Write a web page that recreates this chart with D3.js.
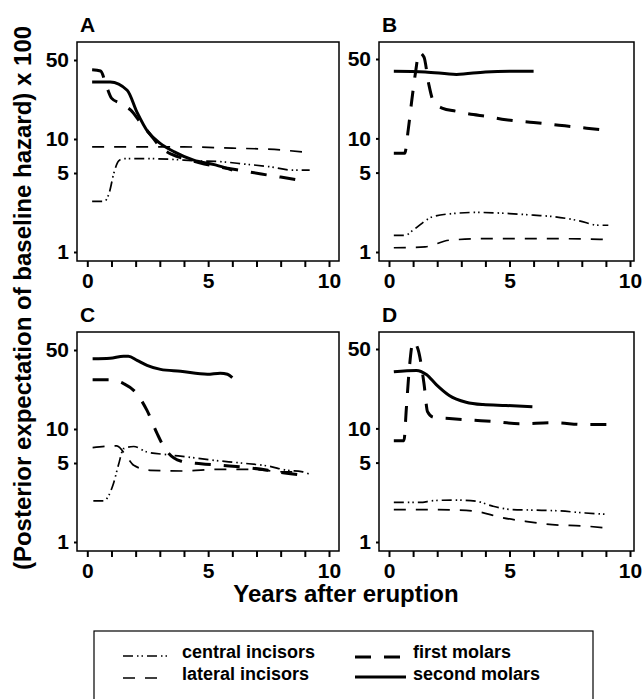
<!DOCTYPE html>
<html>
<head>
	<meta charset="UTF-8" />
	<title>Posterior hazard by tooth type</title>
	<script src="https://cdn.jsdelivr.net/npm/d3@7"></script>
	<style>
		body { margin: 0; background: #fff; }
		svg text { font-family: "Liberation Sans", Arial, Helvetica, sans-serif; font-weight: bold; fill: #000; }
	</style>
</head>
<body>
<div id="chart"></div>
<script type="text/javascript">
	// axis values
	var xTicks = [0, 1, 2, 3, 4, 5, 6, 7, 8, 9, 10];
	var xLabels = [0, 5, 10];
	var yTicks = [1, 5, 10, 50];

	// series: [years after eruption, hazard x 100]
	var A_central = [[0.2,2.8],[0.7,2.8],[0.9,3.3],[1.1,5.0],[1.3,6.4],[1.5,6.7],[2.5,6.7],[3.5,6.6],[4.5,6.4],[5.5,6.3],[6.5,6.0],[7.5,5.7],[8.5,5.3],[9.2,5.3]];
	var A_lateral = [[0.2,8.5],[2,8.5],[4,8.5],[6,8.3],[8,8.0],[9.1,7.6]];
	var A_first = [[0.2,41],[0.55,40],[0.8,29],[1.0,23],[1.4,20.5],[1.8,18],[2.2,14],[2.6,11],[3.0,8.6],[3.5,7.3],[4.0,6.7],[4.6,6.2],[5.2,5.8],[5.8,5.5],[6.5,5.2],[7.2,4.9],[8.0,4.6],[8.8,4.3]];
	var A_second = [[0.2,32],[0.95,32],[1.65,27],[2.07,17],[2.5,11.6],[3.0,9.2],[3.6,7.7],[4.4,6.5],[5.3,5.9],[6.0,5.3]];

	var B_central = [[0.2,1.4],[0.66,1.4],[1.0,1.56],[1.8,2.04],[2.65,2.18],[3.6,2.23],[5.0,2.18],[6.0,2.11],[6.9,2.04],[7.9,1.88],[8.7,1.72],[9.1,1.72]];
	var B_lateral = [[0.2,1.09],[1.5,1.11],[2.5,1.27],[4.0,1.31],[6.8,1.31],[9.0,1.29]];
	var B_first = [[0.2,7.4],[0.65,7.4],[0.8,12],[0.95,22],[1.1,38],[1.25,57],[1.45,52],[1.65,30],[1.85,21],[2.2,18.5],[2.8,17.3],[3.5,16.2],[4.0,15.7],[4.85,14.6],[6.0,13.8],[7.3,12.9],[8.2,12.3],[9.1,11.8]];
	var B_second = [[0.2,39],[1.5,38.5],[2.8,36.6],[4.0,38.5],[5.0,39],[6.0,39]];

	var C_central = [[0.25,2.31],[0.67,2.31],[1.08,3.28],[1.3,4.9],[1.5,6.7],[1.92,7.0],[2.47,6.25],[3.3,5.93],[4.14,5.65],[5.25,5.28],[6.36,5.0],[7.47,4.7],[8.3,4.3],[8.86,4.2],[9.2,3.97]];
	var C_lateral = [[0.22,6.84],[1.22,7.1],[1.64,5.65],[1.92,4.77],[2.6,4.31],[4.0,4.25],[5.4,4.4],[6.8,4.4],[8.2,4.17],[8.9,4.2]];
	var C_first = [[0.22,27.3],[0.88,27.3],[1.5,25.2],[1.99,21.2],[2.47,14.6],[2.89,9.1],[3.17,6.93],[3.86,5.21],[4.7,4.93],[5.5,4.77],[6.64,4.55],[7.47,4.31],[8.17,4.08],[9.2,3.84]];
	var C_second = [[0.22,41.9],[0.94,42.3],[1.5,44],[1.7,44],[2.06,40.5],[2.47,36.6],[3.03,33.7],[3.86,32.4],[4.97,30.5],[5.5,31.2],[5.8,30.5],[6.0,28.5]];

	var D_central = [[0.2,2.23],[1.28,2.23],[1.83,2.31],[2.65,2.34],[3.6,2.29],[4.3,2.07],[5.1,1.93],[5.95,1.91],[7.05,1.88],[8.15,1.8],[9.1,1.75]];
	var D_lateral = [[0.2,1.93],[1.55,1.93],[2.93,1.91],[3.75,1.84],[4.57,1.66],[5.67,1.52],[6.77,1.42],[8.15,1.38],[8.97,1.33]];
	var D_first = [[0.2,7.8],[0.62,7.8],[0.72,15],[0.85,35],[1.0,58],[1.2,50],[1.45,25],[1.6,14],[1.85,12.5],[2.5,12.2],[3.5,11.8],[4.3,11.5],[5.4,11.0],[6.8,11.2],[8.15,10.8],[9.1,10.8]];
	var D_second = [[0.2,31.5],[1.14,32.4],[1.55,29.8],[1.96,24.3],[2.5,19.5],[3.2,17],[3.9,16.2],[4.85,15.9],[5.95,15.5]];

	var seriesKeys = ["central", "lateral", "first", "second"];
	var seriesNames = ["central incisors", "lateral incisors", "first molars", "second molars"];

	var styles = {
		central: { w: 1.7, dash: "10,4,1.5,3,1.5,4" },
		lateral: { w: 1.7, dash: "12,10" },
		first:   { w: 3,   dash: "16,13" },
		second:  { w: 3,   dash: null }
	};

	var panels = [
		{ id: "A", data: { central: A_central, lateral: A_lateral, first: A_first, second: A_second }, box: [77, 339, 42, 261], xr: [87.3, 329], yr: [252, 60] },
		{ id: "B", data: { central: B_central, lateral: B_lateral, first: B_first, second: B_second }, box: [379, 634, 42, 261], xr: [389, 630], yr: [252, 59] },
		{ id: "C", data: { central: C_central, lateral: C_lateral, first: C_first, second: C_second }, box: [77, 339, 332, 551], xr: [87.3, 329], yr: [542, 350] },
		{ id: "D", data: { central: D_central, lateral: D_lateral, first: D_first, second: D_second }, box: [379, 634, 332, 551], xr: [389, 630], yr: [542, 349] }
	];

	var svg = d3.select("#chart").append("svg")
		.attr("width", 643)
		.attr("height", 699);

	panels.forEach(function(p) {
		var x = d3.scaleLinear().domain([0, 10]).range(p.xr);
		var y = d3.scaleLog().domain([1, 50]).range(p.yr);
		var g = svg.append("g");

		g.append("rect")
			.attr("x", p.box[0]).attr("y", p.box[2])
			.attr("width", p.box[1] - p.box[0]).attr("height", p.box[3] - p.box[2])
			.attr("fill", "none").attr("stroke", "#000").attr("stroke-width", 1.5);

		// x axis
		var xa = g.append("g")
			.attr("transform", "translate(0," + p.box[3] + ")")
			.call(d3.axisBottom(x).tickValues(xTicks).tickSize(6).tickPadding(4)
				.tickFormat(function(d) { return xLabels.indexOf(d) >= 0 ? d : ""; }));
		xa.select(".domain").remove();
		xa.selectAll("line").attr("stroke-width", 2);
		xa.selectAll("text").attr("font-size", 21).attr("dy", "0.8em");

		// y axis
		var ya = g.append("g")
			.attr("transform", "translate(" + p.box[0] + ",0)")
			.call(d3.axisLeft(y).tickValues(yTicks).tickSize(3).tickPadding(5)
				.tickFormat(d3.format("d")));
		ya.select(".domain").remove();
		ya.selectAll("line").attr("stroke-width", 2);
		ya.selectAll("text").attr("font-size", 21);

		var line = d3.line()
			.x(function(d) { return x(d[0]); })
			.y(function(d) { return y(d[1]); })
			.curve(d3.curveMonotoneX);

		seriesKeys.forEach(function(k) {
			g.append("path")
				.datum(p.data[k])
				.attr("d", line)
				.attr("fill", "none")
				.attr("stroke", "#000")
				.attr("stroke-width", styles[k].w)
				.attr("stroke-dasharray", styles[k].dash);
		});

		g.append("text")
			.attr("x", p.box[0] + 3)
			.attr("y", p.box[2] - 10)
			.attr("font-size", 21)
			.text(p.id);
	});

	// axis titles
	svg.append("text")
		.attr("transform", "translate(31,298) rotate(-90)")
		.attr("text-anchor", "middle")
		.attr("font-size", 24)
		.text("(Posterior expectation of baseline hazard) x 100");

	svg.append("text")
		.attr("x", 346)
		.attr("y", 602)
		.attr("text-anchor", "middle")
		.attr("font-size", 24)
		.text("Years after eruption");

	// legend
	var lg = svg.append("g");
	lg.append("rect")
		.attr("x", 94).attr("y", 631).attr("width", 499).attr("height", 90)
		.attr("fill", "none").attr("stroke", "#000").attr("stroke-width", 1.2);

	var legendPos = {
		central: { x1: 123, x2: 169, ly: 656, tx: 182, ty: 658 },
		lateral: { x1: 123, x2: 158, ly: 678, tx: 182, ty: 680 },
		first:   { x1: 355, x2: 406, ly: 657, tx: 413, ty: 658 },
		second:  { x1: 355, x2: 406, ly: 677, tx: 413, ty: 680 }
	};

	seriesKeys.forEach(function(k, i) {
		var lp = legendPos[k];
		lg.append("line")
			.attr("x1", lp.x1).attr("x2", lp.x2)
			.attr("y1", lp.ly).attr("y2", lp.ly)
			.attr("stroke", "#000")
			.attr("stroke-width", styles[k].w)
			.attr("stroke-dasharray", styles[k].dash);
		lg.append("text")
			.attr("x", lp.tx).attr("y", lp.ty)
			.attr("font-size", 18)
			.text(seriesNames[i]);
	});
</script>
</body>
</html>
